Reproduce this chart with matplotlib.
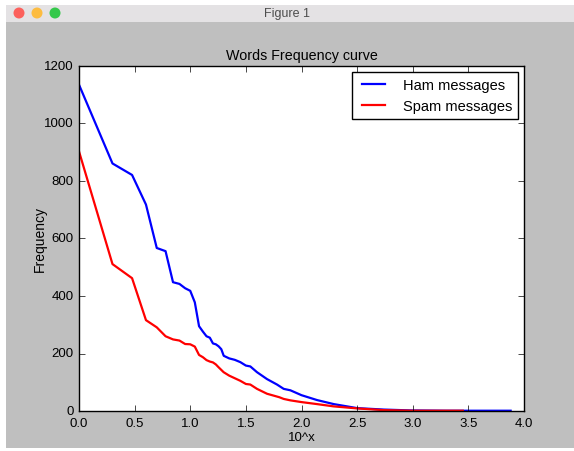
import matplotlib
matplotlib.use("Agg")
import matplotlib.pyplot as plt
from matplotlib.patches import Rectangle, Circle

# rank-frequency data (x = log10 of word rank)
ham_x = [0.0, 0.301, 0.477, 0.602, 0.699, 0.778, 0.845, 0.903, 0.954, 1.0,
         1.041, 1.079, 1.114, 1.146, 1.176, 1.204, 1.230, 1.255, 1.279, 1.301,
         1.35, 1.40, 1.45, 1.50, 1.54, 1.60, 1.69, 1.78, 1.84, 1.90, 2.0,
         2.14, 2.29, 2.50, 2.74, 2.98, 3.3, 3.6, 3.88]
ham_y = [1135, 861, 821, 718, 567, 556, 448, 442, 427, 418,
         378, 295, 276, 260, 255, 235, 232, 225, 215, 192,
         183, 178, 170, 158, 155, 135, 111, 92, 77, 72, 55,
         38, 24, 10, 5, 2, 1, 1, 1]

spam_x = [0.0, 0.301, 0.477, 0.602, 0.699, 0.778, 0.845, 0.903, 0.954, 1.0,
          1.041, 1.079, 1.114, 1.146, 1.176, 1.204, 1.230, 1.255, 1.30, 1.35,
          1.40, 1.45, 1.50, 1.54, 1.60, 1.69, 1.80, 1.84, 1.90, 2.0, 2.14,
          2.29, 2.50, 2.74, 3.0, 3.45]
spam_y = [903, 511, 462, 316, 291, 260, 249, 245, 233, 232,
          224, 195, 187, 177, 172, 169, 162, 152, 135, 123,
          114, 105, 94, 92, 77, 60, 48, 42, 37, 31, 24,
          16, 9, 3, 1, 1]

W, H = 574, 452


def main():
    plt.style.use("classic")
    plt.rcParams["font.family"] = ["Liberation Sans", "DejaVu Sans"]
    fig = plt.figure(figsize=(W / 100, H / 100), dpi=100, facecolor="#bfbfbf")

    # window chrome of the screenshot
    fig.add_artist(Rectangle((0, 0), 6 / W, 1, transform=fig.transFigure,
                             facecolor="white", edgecolor="none"))
    fig.add_artist(Rectangle((0, 1 - 6 / H), 1, 6 / H, transform=fig.transFigure,
                             facecolor="white", edgecolor="none"))
    fig.add_artist(Rectangle((0, 0), 1, 3 / H, transform=fig.transFigure,
                             facecolor="white", edgecolor="none"))
    fig.add_artist(Rectangle((6 / W, 1 - 23 / H), 1, 17 / H, transform=fig.transFigure,
                             facecolor="#e4e2e4", edgecolor="none"))
    for cx, col in [(19, "#fc605c"), (37, "#fdbc40"), (55, "#34c84a")]:
        fig.add_artist(Circle((cx, H - 14), 5.5, transform=None,
                              facecolor=col, edgecolor="none"))
    fig.text(0.5, 1 - 14 / H, "Figure 1", ha="center", va="center",
             fontsize=9, color="#4d4d4d")

    ax = fig.add_axes([79 / W, 1 - 412 / H, 445 / W, 345 / H])
    ax.plot(ham_x, ham_y, color="blue", lw=1.6, label="Ham messages")
    ax.plot(spam_x, spam_y, color="red", lw=1.6, label="Spam messages")
    ax.set_xlim(0, 4)
    ax.set_ylim(0, 1200)
    ax.set_title("Words Frequency curve", fontsize=10.3)
    ax.set_xlabel("10^x", fontsize=9.5, labelpad=2)
    ax.set_ylabel("Frequency", fontsize=10, labelpad=-2)
    ax.tick_params(labelsize=9.5)
    ax.legend(loc="upper right", fontsize=10.5, handlelength=2.2,
              handletextpad=0.9, borderaxespad=0.4)

    fig.savefig("out.png", dpi=100, facecolor=fig.get_facecolor())


if __name__ == "__main__":
    main()
